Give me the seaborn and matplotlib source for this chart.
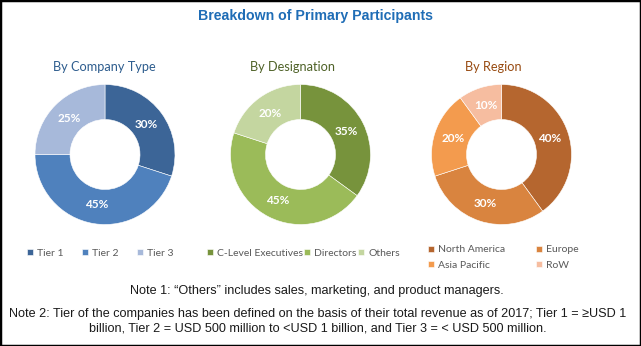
import matplotlib
matplotlib.use("Agg")
import matplotlib.pyplot as plt
from matplotlib import font_manager
from matplotlib.patches import Rectangle
import seaborn as sns

# ---- data -------------------------------------------------------------
company_labels = ["Tier 1", "Tier 2", "Tier 3"]
company_values = [30, 45, 25]

designation_labels = ["C-Level Executives", "Directors", "Others"]
designation_values = [35, 45, 20]

region_labels = ["North America", "Europe", "Asia Pacific", "RoW"]
region_values = [40, 30, 20, 10]

title = "Breakdown of Primary Participants"
subtitles = ["By Company Type", "By Designation", "By Region"]
note1 = "Note 1: \u201cOthers\u201d includes sales, marketing, and product managers."
note2 = ("Note 2: Tier of the companies has been defined on the basis of their total revenue as of 2017; Tier 1 = \u2265USD 1\n"
         "billion, Tier 2 = USD 500 million to <USD 1 billion, and Tier 3 = < USD 500 million.")

# ---- style ------------------------------------------------------------
sns.set_theme(style="white")
installed = {f.name for f in font_manager.fontManager.ttflist}
narrow = "Liberation Sans Narrow" if "Liberation Sans Narrow" in installed else "Liberation Sans"
body = "Lato" if "Lato" in installed else "DejaVu Sans"
plt.rcParams["font.family"] = [body, "DejaVu Sans"]

company_pal = sns.color_palette(["#3C6597", "#4F81BD", "#A7B9DA"])
designation_pal = sns.color_palette(["#77933C", "#9BBB59", "#C4D6A0"])
region_pal = sns.color_palette(["#B5662F", "#D9843F", "#F39B4E", "#F6BDA0"])

W, H = 641, 346
fig = plt.figure(figsize=(W / 100, H / 100), dpi=100)
fig.patch.set_facecolor("white")


def px_axes(cx, cy, r):
    return fig.add_axes([(cx - r) / W, (H - cy - r) / H, 2 * r / W, 2 * r / H])


def donut(ax, values, colors):
    wedges, _, autotexts = ax.pie(
        values, colors=colors, startangle=90, counterclock=False,
        radius=1.0, autopct="%.0f%%", pctdistance=0.73,
        wedgeprops=dict(width=0.5, edgecolor="white", linewidth=0.4),
        textprops=dict(color="white", fontsize=8.5, fontweight="bold", family=[body, "DejaVu Sans"]),
    )
    ax.set_xlim(-1, 1)
    ax.set_ylim(-1, 1)
    ax.set_axis_off()
    return wedges


centers = [(105, 154.5), (300.5, 154.5), (501.5, 154.5)]
series = [(company_values, company_pal), (designation_values, designation_pal), (region_values, region_pal)]
wedge_sets = []
for (cx, cy), (vals, pal) in zip(centers, series):
    ax = px_axes(cx, cy, 70)
    wedge_sets.append(donut(ax, vals, pal))

# ---- titles -----------------------------------------------------------
fig.text(316 / W, 1 - 16 / H, title, ha="center", va="center", color="#1F6DB6",
         fontsize=10.2, fontweight="bold", family=[narrow, "DejaVu Sans"])
sub_pos = [104, 293, 493]
sub_cols = ["#2E5D8E", "#4F6228", "#984B12"]
for x, s, c in zip(sub_pos, subtitles, sub_cols):
    fig.text(x / W, 1 - 67 / H, s, ha="center", va="center", color=c, fontsize=9.2)

# ---- legends ----------------------------------------------------------
leg_kw = dict(frameon=False, fontsize=7.5, handlelength=0.55, handleheight=0.55,
              handletextpad=0.4, borderpad=0, borderaxespad=0, labelcolor="#595959",
              loc="center left")
fig.legend(wedge_sets[0], company_labels, ncol=3, columnspacing=1.8,
           bbox_to_anchor=(27 / W, 1 - 253 / H), **leg_kw)
fig.legend(wedge_sets[1], designation_labels, ncol=3, columnspacing=0.15,
           bbox_to_anchor=(207 / W, 1 - 253 / H), **leg_kw)
# two columns filled row by row: North America | Europe, Asia Pacific | RoW
order = [0, 2, 1, 3]
fig.legend([wedge_sets[2][i] for i in order], [region_labels[i] for i in order],
           ncol=2, columnspacing=3.0, labelspacing=0.6,
           bbox_to_anchor=(428 / W, 1 - 257.5 / H), **leg_kw)

# ---- notes ------------------------------------------------------------
fig.text(317 / W, 1 - 291 / H, note1, ha="center", va="center", color="#1a1a1a",
         fontsize=9.1, family=[narrow, "DejaVu Sans"])
fig.text(318 / W, 1 - 321 / H, note2, ha="center", va="center", color="#1a1a1a",
         fontsize=9.1, linespacing=1.25, multialignment="center", family=[narrow, "DejaVu Sans"])

# ---- frame ------------------------------------------------------------
fig.add_artist(Rectangle((0, 0), 1, 1, transform=fig.transFigure, fill=False,
                         edgecolor="black", linewidth=2.5, clip_on=False))

fig.savefig("out.png", dpi=100)
